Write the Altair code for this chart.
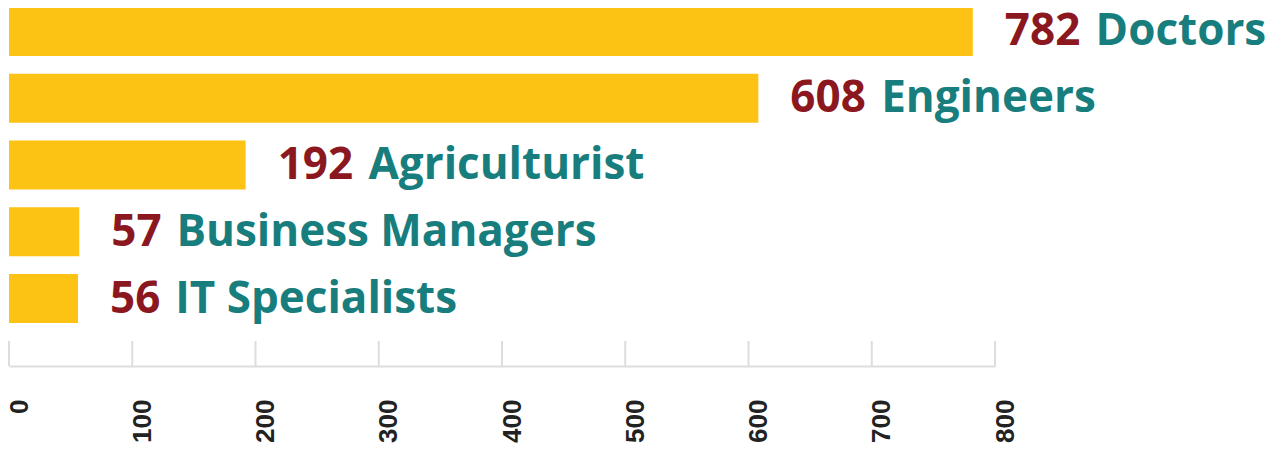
import altair as alt
import pandas as pd

professions = ["Doctors", "Engineers", "Agriculturist", "Business Managers", "IT Specialists"]
counts = [782, 608, 192, 57, 56]
tick_values = [0, 100, 200, 300, 400, 500, 600, 700, 800]

df = pd.DataFrame({"profession": professions, "count": counts})
ticks_df = pd.DataFrame({"tick": tick_values})

BAR = "#FCC314"
RED = "#8B181E"
TEAL = "#177D7D"
GRAY = "#DDDDDD"
FONT = "Open Sans"
FS = 44
GAP = 32          # bar end -> number
DIGIT = 25.6      # digit advance at FS
SPACE = 14        # number -> name

xscale = alt.Scale(domain=[0, 800], nice=False, zero=True)
yenc = alt.Y("profession:N", sort=professions, axis=None,
             scale=alt.Scale(paddingInner=0.266, paddingOuter=0))
xenc = alt.X("count:Q", scale=xscale, axis=None)

base = alt.Chart(df).encode(y=yenc, x=xenc)

bars = base.mark_bar(color=BAR)

num_text = base.mark_text(
    align="left", baseline="middle", dx=GAP, dy=1,
    font=FONT, fontSize=FS, fontWeight="bold", color=RED,
).encode(text=alt.Text("count:Q"))

name3 = base.transform_filter("datum.count >= 100").mark_text(
    align="left", baseline="middle", dx=GAP + 3 * DIGIT + SPACE, dy=1,
    font=FONT, fontSize=FS, fontWeight="bold", color=TEAL,
).encode(text=alt.Text("profession:N"))

name2 = base.transform_filter("datum.count < 100").mark_text(
    align="left", baseline="middle", dx=GAP + 2 * DIGIT + SPACE, dy=1,
    font=FONT, fontSize=FS, fontWeight="bold", color=TEAL,
).encode(text=alt.Text("profession:N"))

top = alt.layer(bars, num_text, name3, name2).properties(width=986, height=316)

axis_panel = alt.Chart(ticks_df).mark_rule(color=GRAY, strokeWidth=2).encode(
    x=alt.X(
        "tick:Q", scale=xscale, title=None,
        axis=alt.Axis(
            values=tick_values, grid=False, ticks=False,
            domain=True, domainColor=GRAY, domainWidth=2,
            labelAngle=-90, labelAlign="right", labelBaseline="middle",
            labelOffset=10,
            labelFont="Liberation Sans", labelFontSize=26, labelFontWeight="bold",
            labelColor="#222222", labelPadding=33,
        ),
    ),
).properties(width=986, height=25)

chart = alt.vconcat(top, axis_panel, spacing=17).properties(
    padding={"left": -3, "top": -1, "right": 0, "bottom": 0}
).configure_view(stroke=None).configure_concat(spacing=17)

chart.save("out.html", embed_options={"renderer": "svg", "actions": False})
